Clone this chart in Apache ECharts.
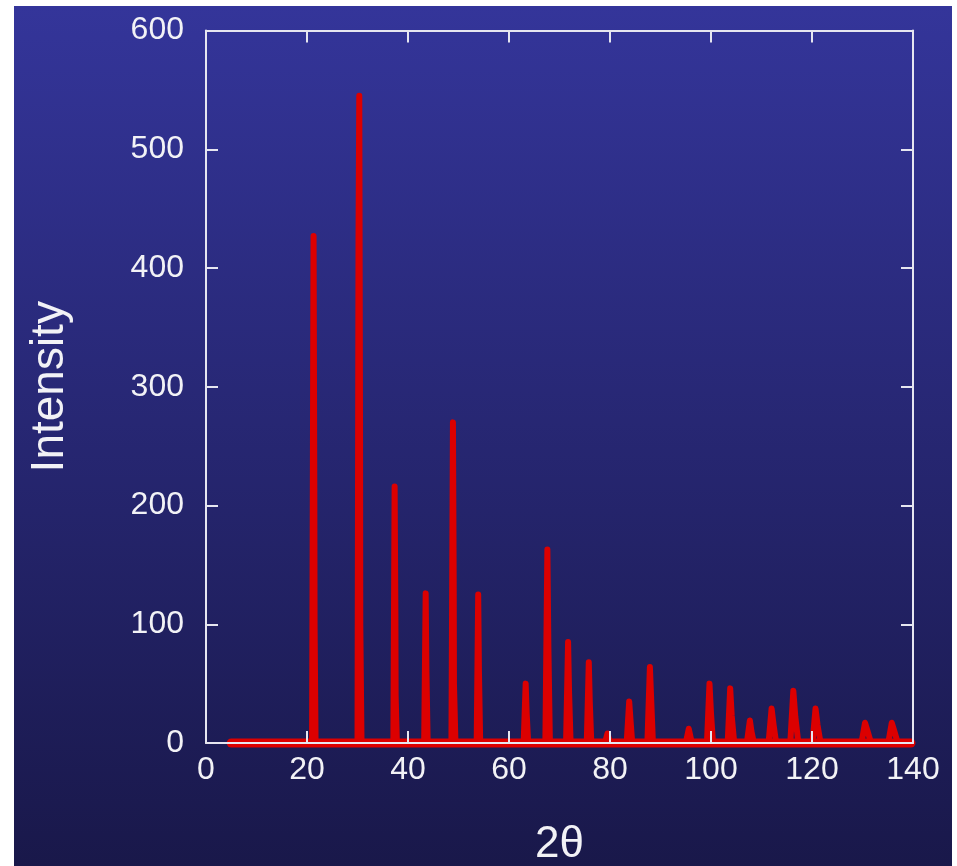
<!DOCTYPE html>
<html>
<head>
<meta charset="utf-8">
<script src="https://cdn.jsdelivr.net/npm/echarts@6/dist/echarts.min.js"></script>
<style>
html,body{margin:0;padding:0;background:#ffffff;}
#chart{width:957px;height:866px;}
</style>
</head>
<body>
<div id="chart"></div>
<script>
// Diffraction pattern
const twoTheta = [
  5,
  21.0, 21.3, 21.45, 21.5, 21.7,
  30.0, 30.2, 30.35, 30.5, 30.55, 30.8,
  37.1, 37.35, 37.5, 37.55, 37.8,
  43.2, 43.5, 43.65, 43.9,
  48.6, 48.9, 49.05, 49.1, 49.4,
  53.6, 53.9, 54.05, 54.3,
  62.9, 63.3, 63.5, 63.8,
  67.2, 67.6, 67.8, 68.1,
  71.3, 71.7, 71.9, 72.2,
  75.4, 75.8, 76.0, 76.3,
  79.0, 79.5, 80.0,
  83.3, 83.8, 84.1, 84.4,
  87.4, 87.9, 88.2, 88.5,
  95.0, 95.6, 96.2,
  99.2, 99.7, 100.0, 100.4,
  103.3, 103.8, 104.1, 104.6,
  107.1, 107.7, 108.0, 108.5,
  111.4, 112.0, 112.4, 112.9,
  115.7, 116.3, 116.7, 117.3,
  120.1, 120.7, 121.1, 121.7,
  129.8, 130.5, 131.0, 131.7,
  135.1, 135.8, 136.3, 137.0,
  139.6
];
const intensity = [
  0,
  0, 427, 215, 100, 0,
  0, 423, 545, 270, 100, 0,
  0, 216, 110, 40, 0,
  0, 126, 60, 0,
  0, 270, 135, 50, 0,
  0, 125, 60, 0,
  0, 50, 25, 0,
  0, 163, 80, 0,
  0, 85, 42, 0,
  0, 68, 34, 0,
  0, 8, 0,
  0, 35, 17, 0,
  0, 64, 32, 0,
  0, 12, 0,
  0, 50, 25, 0,
  0, 46, 23, 0,
  0, 19, 10, 0,
  0, 29, 15, 0,
  0, 44, 22, 0,
  0, 29, 15, 0,
  0, 17, 10, 0,
  0, 17, 10, 0,
  0
];
// background level of the pattern (start, end, level)
const baseRange = [5, 139.6];
const baseLevel = 0;
const xTicks = [0, 20, 40, 60, 80, 100, 120, 140];
const yTicks = [0, 100, 200, 300, 400, 500, 600];
const xName = '2θ';
const yName = 'Intensity';

const data = twoTheta.map((x, i) => [x, intensity[i]]);
const baseData = baseRange.map(x => [x, baseLevel]);

const FONT = '"Liberation Sans", Arial, sans-serif';
const AX = '#e6e6f0';
const TXT = '#f2f2f6';
const RED = '#dc0000';

const chart = echarts.init(document.getElementById('chart'), null, {renderer: 'canvas'});

function axisBase(extra) {
  return Object.assign({
    axisLine: {show: true, onZero: false, lineStyle: {color: AX, width: 2}},
    axisTick: {show: true, inside: true, length: 12, lineStyle: {color: AX, width: 2}},
    splitLine: {show: false},
    z: 5
  }, extra);
}

chart.setOption({
  animation: false,
  backgroundColor: 'transparent',
  graphic: [{
    type: 'rect',
    z: -10,
    silent: true,
    shape: {x: 14, y: 6, width: 938, height: 860},
    style: {
      fill: new echarts.graphic.LinearGradient(0, 0, 0, 1, [
        {offset: 0, color: '#34359a'},
        {offset: 1, color: '#19184a'}
      ])
    }
  }],
  grid: {left: 206, top: 30.5, right: 44, bottom: 123, containLabel: false, outerBoundsMode: 'none'},
  xAxis: [
    axisBase({
      type: 'value', position: 'bottom', min: 0, max: 140, interval: 20,
      name: xName, nameLocation: 'middle', nameGap: 80,
      nameTextStyle: {color: TXT, fontSize: 44, fontFamily: FONT},
      axisLabel: {color: TXT, fontSize: 32, fontFamily: FONT, margin: 11,
        formatter: v => xTicks.includes(v) ? String(v) : ''}
    }),
    axisBase({
      type: 'value', position: 'top', min: 0, max: 140, interval: 20,
      axisLabel: {show: false}
    })
  ],
  yAxis: [
    axisBase({
      type: 'value', position: 'left', min: 0, max: 600, interval: 100,
      name: yName, nameLocation: 'middle', nameGap: 133, nameRotate: 90,
      nameTextStyle: {color: TXT, fontSize: 46, fontFamily: FONT},
      axisLabel: {color: TXT, fontSize: 32, fontFamily: FONT, margin: 22,
        padding: [0, 0, 22, 0],
        formatter: v => yTicks.includes(v) ? String(v) : ''}
    }),
    axisBase({
      type: 'value', position: 'right', min: 0, max: 600, interval: 100,
      axisLabel: {show: false}
    })
  ],
  series: [{
    type: 'line',
    data: baseData,
    showSymbol: false,
    symbol: 'none',
    clip: false,
    z: 1,
    lineStyle: {color: RED, width: 9, cap: 'round'}
  }, {
    type: 'line',
    data: data,
    showSymbol: false,
    symbol: 'none',
    clip: false,
    z: 1,
    lineStyle: {color: RED, width: 6, cap: 'round', join: 'round'}
  }]
});
</script>
</body>
</html>
